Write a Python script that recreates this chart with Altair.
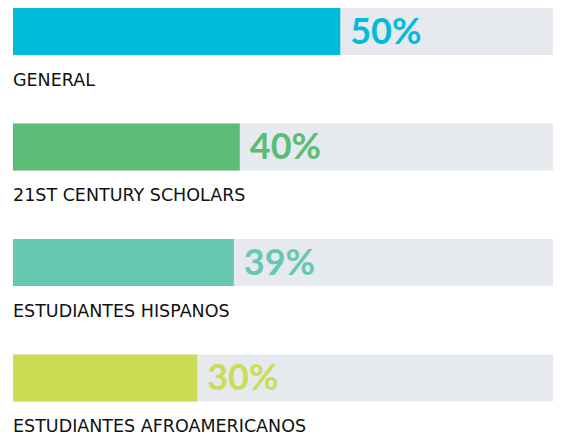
import altair as alt
import pandas as pd

categories = ["GENERAL", "21ST CENTURY SCHOLARS", "ESTUDIANTES HISPANOS", "ESTUDIANTES AFROAMERICANOS"]
percent_labels = [50, 40, 39, 30]
# bar fill as drawn, in % of the grey track
bar_fill = [60.6, 42.0, 40.9, 34.1]
colors = ["#00BCDB", "#5BBD75", "#66C7B2", "#CADD55"]

df = pd.DataFrame({
    "category": categories,
    "pct": percent_labels,
    "fill": bar_fill,
    "color": colors,
    "track": [100] * len(categories),
})
df["label"] = df["pct"].astype(str) + "%"

W, H = 545, 430

x_scale = alt.Scale(domain=[0, 100], range=[5, W], zero=True, nice=False)
y_scale = alt.Scale(type="point", domain=categories, range=[23.5, 370], padding=0)

base = alt.Chart(df).encode(
    y=alt.Y("category:N", scale=y_scale, axis=None),
)

track = base.mark_bar(size=47, color="#E6E9ED").encode(
    x=alt.X("track:Q", scale=x_scale, axis=None),
)

bars = base.mark_bar(size=47).encode(
    x=alt.X("fill:Q", scale=x_scale, axis=None),
    color=alt.Color("color:N", scale=None, legend=None),
)

pct_text = base.mark_text(
    align="left", baseline="alphabetic", dx=10, dy=12,
    font="Lato", fontWeight="bold", fontSize=36,
).encode(
    x=alt.X("fill:Q", scale=x_scale, axis=None),
    text="label:N",
    color=alt.Color("color:N", scale=None, legend=None),
)

cat_text = base.mark_text(
    align="left", baseline="alphabetic", dy=54,
    font="DejaVu Sans", fontSize=17.5, color="#111111",
).encode(
    x=alt.datum(0, scale=x_scale),
    text="category:N",
)

chart = alt.layer(track, bars, pct_text, cat_text).properties(
    width=W, height=H,
    autosize=alt.AutoSizeParams(type="none"),
    padding=0,
).configure_view(stroke=None)

chart.save("out.html", embed_options={"renderer": "svg", "actions": False})
